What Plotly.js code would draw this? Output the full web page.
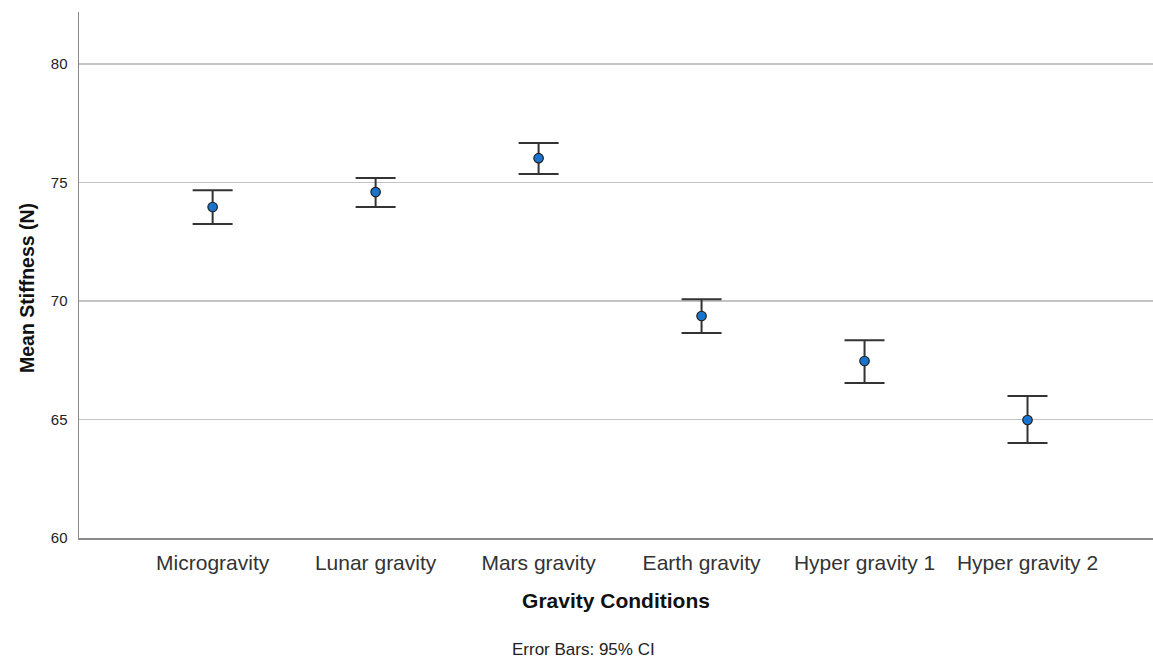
<!DOCTYPE html>
<html>
<head>
<meta charset="utf-8">
<script src="https://cdn.plot.ly/plotly-3.0.1.min.js"></script>
<style>body{margin:0;background:#fff}#chart{width:1153px;height:658px}</style>
</head>
<body>
<div id="chart"></div>
<script>
const categories = ["Microgravity", "Lunar gravity", "Mars gravity", "Earth gravity", "Hyper gravity 1", "Hyper gravity 2"];
const means = [73.97, 74.60, 76.03, 69.37, 67.47, 64.98];
const upperCI = [74.68, 75.19, 76.67, 70.08, 68.35, 65.99];
const lowerCI = [73.25, 73.97, 75.36, 68.65, 66.54, 64.01];
const yTicks = [60, 65, 70, 75, 80];

const errPlus = means.map((m, i) => upperCI[i] - m);
const errMinus = means.map((m, i) => m - lowerCI[i]);

const trace = {
  type: "scatter",
  mode: "markers",
  x: categories,
  y: means,
  marker: {size: 9.5, color: "#1874cd", line: {color: "#222", width: 1.2}},
  error_y: {type: "data", symmetric: false, array: errPlus, arrayminus: errMinus,
            color: "#333", thickness: 2, width: 20},
  hoverinfo: "x+y"
};

const W = 1153, L = 79, T = 12, B = 538;

const layout = {
  width: 1153, height: 658,
  margin: {l: 79, r: 0, t: 12, b: 120},
  paper_bgcolor: "#fff", plot_bgcolor: "#fff",
  showlegend: false,
  font: {family: "Liberation Sans, Arial, sans-serif", color: "#222"},
  xaxis: {
    type: "category",
    range: [-0.82, 5.77],
    showgrid: false, zeroline: false,
    showline: true, linecolor: "#8a8a8a", linewidth: 1.5,
    ticks: "", tickfont: {size: 21, color: "#333"},
    ticklabelstandoff: 5,
    title: {text: "<b>Gravity Conditions</b>", font: {size: 21, color: "#111"}, standoff: 20}
  },
  yaxis: {
    range: [60, 82.2],
    tickvals: yTicks, ticktext: yTicks.map(String),
    showgrid: true, gridcolor: "#c4c4c4", gridwidth: 1.5,
    zeroline: false,
    showline: true, linecolor: "#8a8a8a", linewidth: 1.5,
    ticks: "", tickfont: {size: 15, color: "#222"},
    ticklabelstandoff: 7
  },
  annotations: [{
    text: "Error Bars: 95% CI", xref: "paper", yref: "paper",
    x: (583 - L) / (W - L), y: -(649 - B) / (B - T),
    xanchor: "center", yanchor: "middle", showarrow: false,
    font: {size: 17, color: "#222"}
  }, {
    text: "<b>Mean Stiffness (N)</b>", xref: "paper", yref: "paper",
    x: (27 - L) / (W - L), y: (B - 288) / (B - T),
    xanchor: "center", yanchor: "middle", showarrow: false, textangle: -90,
    font: {size: 19.5, color: "#111"}
  }]
};

Plotly.newPlot("chart", [trace], layout, {displayModeBar: false, staticPlot: true});
</script>
</body>
</html>
